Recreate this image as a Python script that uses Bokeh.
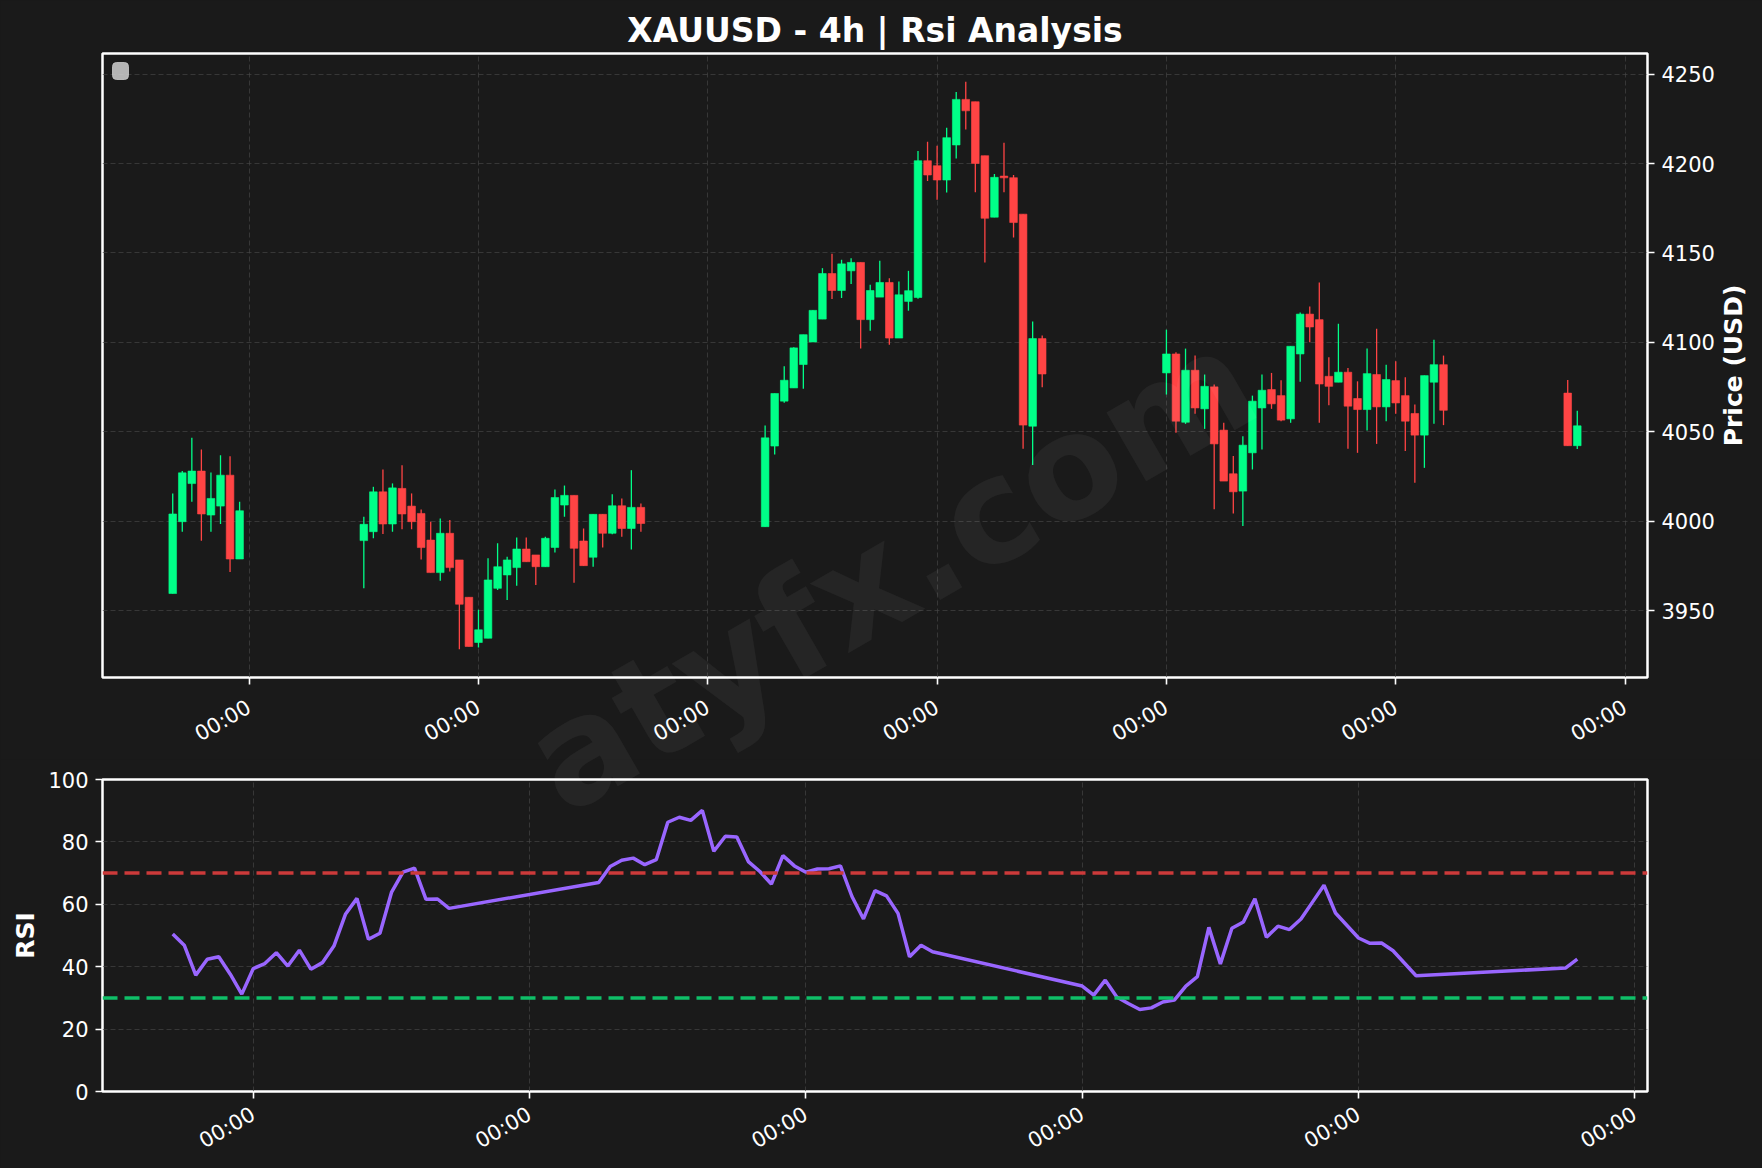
import math
import numpy as np
import pandas as pd
from bokeh.plotting import figure
from bokeh.models import (ColumnDataSource, Range1d, FixedTicker, DatetimeTickFormatter,
                          Span, Label, BoxAnnotation, GridBox)
from bokeh.embed import file_html
from bokeh.resources import INLINE

# ---------------- data ----------------
TITLE = "XAUUSD - 4h | Rsi Analysis"
WATERMARK = "atyfx.com"
PRICE_LABEL = "Price (USD)"
RSI_LABEL = "RSI"

# trading sessions of 4h bars: (first bar, number of bars)
SESSIONS = [("2025-10-30 16:00", 8), ("2025-11-03 00:00", 30), ("2025-11-10 00:00", 30),
            ("2025-11-17 00:00", 30), ("2025-11-24 00:00", 2)]

OPEN = [3959.5, 3999.7, 4021.0, 4028.0, 4003.4, 4008.4, 4025.7, 3978.8,
        3989.1, 3994.1, 4016.4, 3998.4, 4018.3, 4008.4, 4004.3, 3989.4, 3971.2, 3993.2,
        3978.3, 3957.4, 3932.1, 3934.5, 3962.4, 3969.9, 3974.0, 3984.4, 3981.1, 3974.5,
        3985.3, 4009.0, 4014.4, 3988.9, 3979.8, 4003.8, 3993.2, 4008.6, 3995.9, 4007.7,
        3996.9, 4042.0, 4067.1, 4074.5, 4087.6, 4100.2, 4113.0, 4138.5, 4129.0, 4140.0,
        4144.7, 4112.7, 4125.3, 4133.5, 4102.4, 4122.9, 4125.1, 4201.6, 4198.8, 4190.8,
        4210.4, 4235.9, 4234.6, 4204.4, 4170.0, 4193.0, 4192.1, 4171.7, 4053.1, 4102.1,
        4082.9, 4093.5, 4055.3, 4084.4, 4062.8, 4075.1, 4050.9, 4026.5, 4016.8, 4038.2,
        4063.3, 4073.6, 4070.2, 4057.2, 4093.5, 4115.8, 4112.7, 4081.0, 4077.7, 4083.3,
        4068.6, 4062.4, 4082.0, 4063.9, 4078.6, 4070.2, 4060.2, 4048.1, 4077.7, 4087.5,
        4071.6, 4042.2]
HIGH = [4015.5, 4028.0, 4046.7, 4040.0, 4027.2, 4036.9, 4036.3, 4010.8,
        4002.5, 4019.2, 4028.9, 4021.1, 4031.3, 4015.5, 4006.5, 3999.7, 4001.5, 4000.6,
        3978.3, 3957.4, 3950.4, 3979.2, 3987.6, 3980.1, 3990.9, 3990.9, 3981.1, 3991.3,
        4017.7, 4019.9, 4014.4, 3995.9, 4003.8, 4003.8, 4015.1, 4012.7, 4028.5, 4009.9,
        4053.5, 4071.4, 4086.6, 4097.3, 4104.3, 4117.9, 4141.5, 4149.5, 4146.2, 4147.1,
        4144.7, 4132.2, 4145.6, 4135.9, 4134.1, 4140.0, 4207.0, 4212.2, 4210.0, 4220.0,
        4240.1, 4245.7, 4234.6, 4204.4, 4194.2, 4211.7, 4193.6, 4171.7, 4111.7, 4103.9,
        4107.1, 4094.4, 4096.5, 4092.6, 4082.0, 4076.4, 4055.0, 4036.4, 4047.5, 4070.2,
        4082.0, 4082.9, 4078.8, 4097.8, 4116.7, 4120.1, 4133.5, 4091.6, 4110.4, 4085.7,
        4078.2, 4096.5, 4107.6, 4087.5, 4089.4, 4080.5, 4065.2, 4081.4, 4101.5, 4092.6,
        4079.0, 4061.7]
LOW = [3959.5, 3994.0, 4010.8, 3989.0, 3994.0, 3998.4, 3971.6, 3978.8,
       3962.4, 3990.4, 3992.8, 3994.1, 3995.4, 3995.4, 3978.6, 3971.2, 3966.7, 3971.8,
       3928.4, 3929.9, 3929.3, 3934.5, 3961.5, 3955.9, 3963.9, 3977.3, 3964.3, 3974.5,
       3982.4, 4002.5, 3965.6, 3975.1, 3974.5, 3985.3, 3992.6, 3991.3, 3984.2, 3994.1,
       3996.9, 4037.3, 4066.2, 4074.5, 4074.0, 4100.2, 4113.0, 4124.2, 4124.8, 4132.6,
       4096.5, 4106.5, 4125.3, 4098.7, 4102.4, 4117.7, 4124.4, 4190.3, 4179.7, 4183.8,
       4202.9, 4219.1, 4183.9, 4144.7, 4170.0, 4183.9, 4158.6, 4040.5, 4031.4, 4074.9,
       4070.8, 4049.4, 4054.4, 4060.0, 4051.6, 4006.6, 4022.4, 4004.2, 3997.3, 4028.9,
       4040.1, 4062.8, 4055.9, 4055.0, 4077.9, 4100.0, 4055.0, 4064.8, 4077.7, 4040.5,
       4038.2, 4050.7, 4043.2, 4055.9, 4060.0, 4039.2, 4021.5, 4029.8, 4054.4, 4053.7,
       4042.2, 4040.3]
CLOSE = [4004.0, 4027.0, 4028.0, 4004.0, 4012.7, 4025.7, 3978.8, 4005.8,
         3998.2, 4016.4, 3998.4, 4018.6, 4004.0, 3999.7, 3985.2, 3971.2, 3993.2, 3974.0,
         3953.5, 3929.9, 3939.2, 3967.1, 3974.5, 3978.3, 3984.4, 3977.3, 3974.5, 3990.4,
         4013.2, 4014.4, 3984.8, 3975.1, 4003.8, 3993.2, 4008.6, 3995.9, 4007.7, 3998.7,
         4046.6, 4071.4, 4078.8, 4096.9, 4104.3, 4117.9, 4138.5, 4129.0, 4143.9, 4144.7,
         4112.7, 4129.0, 4133.5, 4102.4, 4126.6, 4128.9, 4201.6, 4193.6, 4190.8, 4214.5,
         4235.9, 4229.5, 4200.1, 4169.4, 4192.3, 4192.0, 4167.0, 4053.7, 4102.1, 4082.3,
         4093.5, 4055.9, 4084.4, 4063.3, 4075.4, 4043.2, 4022.4, 4016.4, 4042.5, 4067.1,
         4073.2, 4065.6, 4056.5, 4097.8, 4115.8, 4108.6, 4076.7, 4075.4, 4083.3, 4064.3,
         4062.4, 4082.5, 4063.9, 4079.2, 4066.1, 4055.9, 4048.1, 4081.4, 4087.5, 4062.0,
         4042.2, 4053.3]

RSI_FIRST_BAR = 13  # RSI is defined from this bar on
RSI = [50.5, 46.9, 37.3, 42.4, 43.2, 37.6, 31.2, 39.4, 41.0, 44.5, 40.2, 45.3, 39.2,
       41.3, 46.6, 56.8, 61.9, 48.8, 50.7, 63.8, 70.3, 71.6, 61.6, 61.7, 58.7,
       67.0, 72.1, 74.1, 74.8, 72.7, 74.3, 86.3, 87.9, 86.9, 90.1, 77.0, 81.8, 81.6,
       73.7, 70.5, 66.5, 75.6, 72.3, 70.3, 71.3, 71.4, 72.3, 62.5, 55.3, 64.4, 62.7,
       57.1, 43.2, 46.9, 44.8,
       33.8, 30.9, 35.7, 30.3, 28.2, 26.3, 26.8, 28.7, 29.3, 33.8, 36.8, 52.6, 40.9,
       52.3, 54.3, 61.8, 49.4, 53.0, 51.9, 55.3, 60.7, 66.1, 57.2, 53.2, 49.2, 47.5,
       47.6, 45.1, 41.1, 37.1,
       39.6, 42.4]
RSI_OVERBOUGHT = 70
RSI_OVERSOLD = 30

PRICE_TICKS = [3950, 4000, 4050, 4100, 4150, 4200, 4250]
RSI_TICKS = [0, 20, 40, 60, 80, 100]
X_TICK_DATES = ["2025-10-28", "2025-11-01", "2025-11-05", "2025-11-09", "2025-11-13",
                "2025-11-17", "2025-11-21", "2025-11-25"]
X_TICK_FORMAT = "%H:%M"

# ---------------- style ----------------
BG = "#1a1a1a"
UP = "#00ff88"
DOWN = "#ff4444"
RSI_COLOR = "#9966ff"
FONT = "DejaVu Sans"
GRID = "#474747"

# ---------------- prepare ----------------
times = []
for start, n in SESSIONS:
    times.extend(pd.date_range(start, periods=n, freq="4h"))
times = pd.DatetimeIndex(times)
assert len(times) == len(OPEN) == len(HIGH) == len(LOW) == len(CLOSE)

o = np.array(OPEN); c = np.array(CLOSE)
df = pd.DataFrame({"t": times, "open": o, "high": HIGH, "low": LOW, "close": c})
df["top"] = np.maximum(o, c)
df["bottom"] = np.minimum(o, c)
df["color"] = np.where(c >= o, UP, DOWN)
src = ColumnDataSource(df)

rsi_t = times[RSI_FIRST_BAR:]
assert len(rsi_t) == len(RSI)
rsrc = ColumnDataSource(dict(t=rsi_t, rsi=RSI))


def ms(ts):
    return pd.Timestamp(ts).value / 1e6


def padded(t0, t1, frac=0.05):
    a, b = ms(t0), ms(t1)
    d = (b - a) * frac
    return a - d, b + d


x1s, x1e = padded(times[0], times[-1])
x2s, x2e = padded(rsi_t[0], rsi_t[-1])
lo, hi = min(LOW), max(HIGH)
ypad = (hi - lo) * 0.05

tick_ms = [ms(d) for d in X_TICK_DATES]
fmt = DatetimeTickFormatter(microseconds=X_TICK_FORMAT, milliseconds=X_TICK_FORMAT,
                            seconds=X_TICK_FORMAT, minsec=X_TICK_FORMAT, minutes=X_TICK_FORMAT,
                            hourmin=X_TICK_FORMAT, hours=X_TICK_FORMAT, days=X_TICK_FORMAT,
                            months=X_TICK_FORMAT, years=X_TICK_FORMAT)

# layout (pixels)
FW = 1545                 # frame width of both panels
FL, FR = 102, 115         # left / right borders
FH1, TOP1, BOT1 = 624, 53, 82
FH2, TOP2, BOT2 = 312, 20, 76
TOTAL_W = FL + FW + FR
H1 = TOP1 + FH1 + BOT1
H2 = TOP2 + FH2 + BOT2
TOTAL_H = H1 + H2


def style_axis(ax, size="21px"):
    ax.axis_line_color = None
    ax.major_tick_line_color = "white"
    ax.major_tick_line_width = 1.6
    ax.major_tick_out = 7
    ax.major_tick_in = 0
    ax.minor_tick_line_color = None
    ax.major_label_text_color = "white"
    ax.major_label_text_font = FONT
    ax.major_label_text_font_size = size
    ax.major_label_standoff = 7
    ax.axis_label_text_color = "white"
    ax.axis_label_text_font = FONT
    ax.axis_label_text_font_size = "25px"
    ax.axis_label_text_font_style = "bold"


def style_fig(p):
    p.background_fill_color = BG
    p.border_fill_color = BG
    p.outline_line_color = "white"
    p.outline_line_width = 2.5
    p.outline_line_alpha = 1.0
    p.grid.grid_line_color = GRID
    p.grid.grid_line_dash = "5 3"
    p.grid.grid_line_width = 1
    p.grid.grid_line_alpha = 0.65


def style_xaxis(p, standoff):
    p.xaxis.ticker = FixedTicker(ticks=tick_ms)
    p.xgrid.ticker = FixedTicker(ticks=tick_ms)
    p.xaxis.formatter = fmt
    p.xaxis.major_label_orientation = math.pi / 6
    style_axis(p.xaxis[0])
    p.xaxis.major_label_standoff = standoff


# ---------------- price panel ----------------
p1 = figure(frame_width=FW, frame_height=FH1, x_axis_type="datetime", y_axis_location="right",
            x_range=Range1d(x1s, x1e), y_range=Range1d(lo - ypad, hi + ypad),
            output_backend="svg", toolbar_location=None,
            min_border_left=FL, min_border_right=FR, min_border_top=TOP1, min_border_bottom=BOT1)
style_fig(p1)
p1.title.text = TITLE
p1.title.align = "center"
p1.title.text_color = "white"
p1.title.text_font = FONT
p1.title.text_font_size = "33px"
p1.title.text_font_style = "bold"
p1.title.standoff = 7

style_xaxis(p1, 21)
p1.yaxis.ticker = FixedTicker(ticks=PRICE_TICKS)
p1.ygrid.ticker = FixedTicker(ticks=PRICE_TICKS)
style_axis(p1.yaxis[0])

bar_w = pd.Timedelta(hours=4).total_seconds() * 1000 * 0.8
p1.segment(x0="t", y0="low", x1="t", y1="high", line_color="color", line_width=1.3, source=src)
p1.vbar(x="t", width=bar_w, top="top", bottom="bottom", fill_color="color",
        line_color="color", line_width=0.6, source=src)

p1.add_layout(BoxAnnotation(left=10, right=26, top=FH1 - 9, bottom=FH1 - 26,
                            left_units="screen", right_units="screen",
                            top_units="screen", bottom_units="screen",
                            fill_color="#d0d0d0", fill_alpha=0.85, line_color="#c0c0c0",
                            line_alpha=0.9, border_radius=4))

# ---------------- RSI panel ----------------
p2 = figure(frame_width=FW, frame_height=FH2, x_axis_type="datetime",
            x_range=Range1d(x2s, x2e), y_range=Range1d(0, 100),
            output_backend="svg", toolbar_location=None,
            min_border_left=FL, min_border_right=FR, min_border_top=TOP2, min_border_bottom=BOT2)
style_fig(p2)
style_xaxis(p2, 14)
p2.yaxis.ticker = FixedTicker(ticks=RSI_TICKS)
p2.ygrid.ticker = FixedTicker(ticks=RSI_TICKS)
p2.yaxis.axis_label = RSI_LABEL
style_axis(p2.yaxis[0])

p2.add_layout(Span(location=RSI_OVERBOUGHT, dimension="width", line_color="#cc3a3a",
                   line_dash="15 7", line_width=3.5))
p2.add_layout(Span(location=RSI_OVERSOLD, dimension="width", line_color="#0fbf68",
                   line_dash="15 7", line_width=3.5))
p2.line(x="t", y="rsi", line_color=RSI_COLOR, line_width=3.5, source=rsrc)

# ---------------- transparent overlay: watermark + price axis title ----------------
ov = figure(width=TOTAL_W, height=TOTAL_H, x_range=Range1d(0, 1), y_range=Range1d(0, 1),
            output_backend="svg", toolbar_location=None,
            x_axis_location=None, y_axis_location=None,
            min_border=0, min_border_left=0, min_border_right=0,
            min_border_top=0, min_border_bottom=0)
ov.grid.visible = False
ov.outline_line_color = None
ov.background_fill_color = None
ov.border_fill_color = None

if "frame_align" in ov.properties():
    # the overlay's frame is the whole canvas: positions below are page pixels
    ov.frame_align = False
    ox, oy_bottom = 0, TOTAL_H
else:
    # frame gets aligned with the panels' frames
    ox, oy_bottom = FL, H1 + TOP2 + FH2

WM_X, WM_Y = 890, 570          # page position of the watermark centre
ov.add_layout(Label(x=WM_X - ox, y=oy_bottom - WM_Y, x_units="screen", y_units="screen",
                    text=WATERMARK, angle=30, angle_units="deg",
                    text_font=FONT, text_font_size="145px", text_font_style="bold",
                    text_color="white", text_alpha=0.05,
                    text_align="center", text_baseline="middle"))
# "Price (USD)" reading bottom-to-top, right of the price tick labels
PL_X, PL_Y = FL + FW + 86, TOP1 + FH1 / 2
ov.add_layout(Label(x=PL_X - ox, y=oy_bottom - PL_Y, x_units="screen", y_units="screen",
                    text=PRICE_LABEL, angle=90, angle_units="deg",
                    text_font=FONT, text_font_size="25px", text_font_style="bold",
                    text_color="white", text_align="center", text_baseline="middle"))

layout = GridBox(children=[(p1, 0, 0), (p2, 1, 0), (ov, 0, 0, 2, 1)], spacing=0)
html = file_html(layout, INLINE, title=TITLE)
html = html.replace("</head>", "<style>body{background:#1a1a1a;}</style></head>", 1)
open("out.html", "w").write(html)
